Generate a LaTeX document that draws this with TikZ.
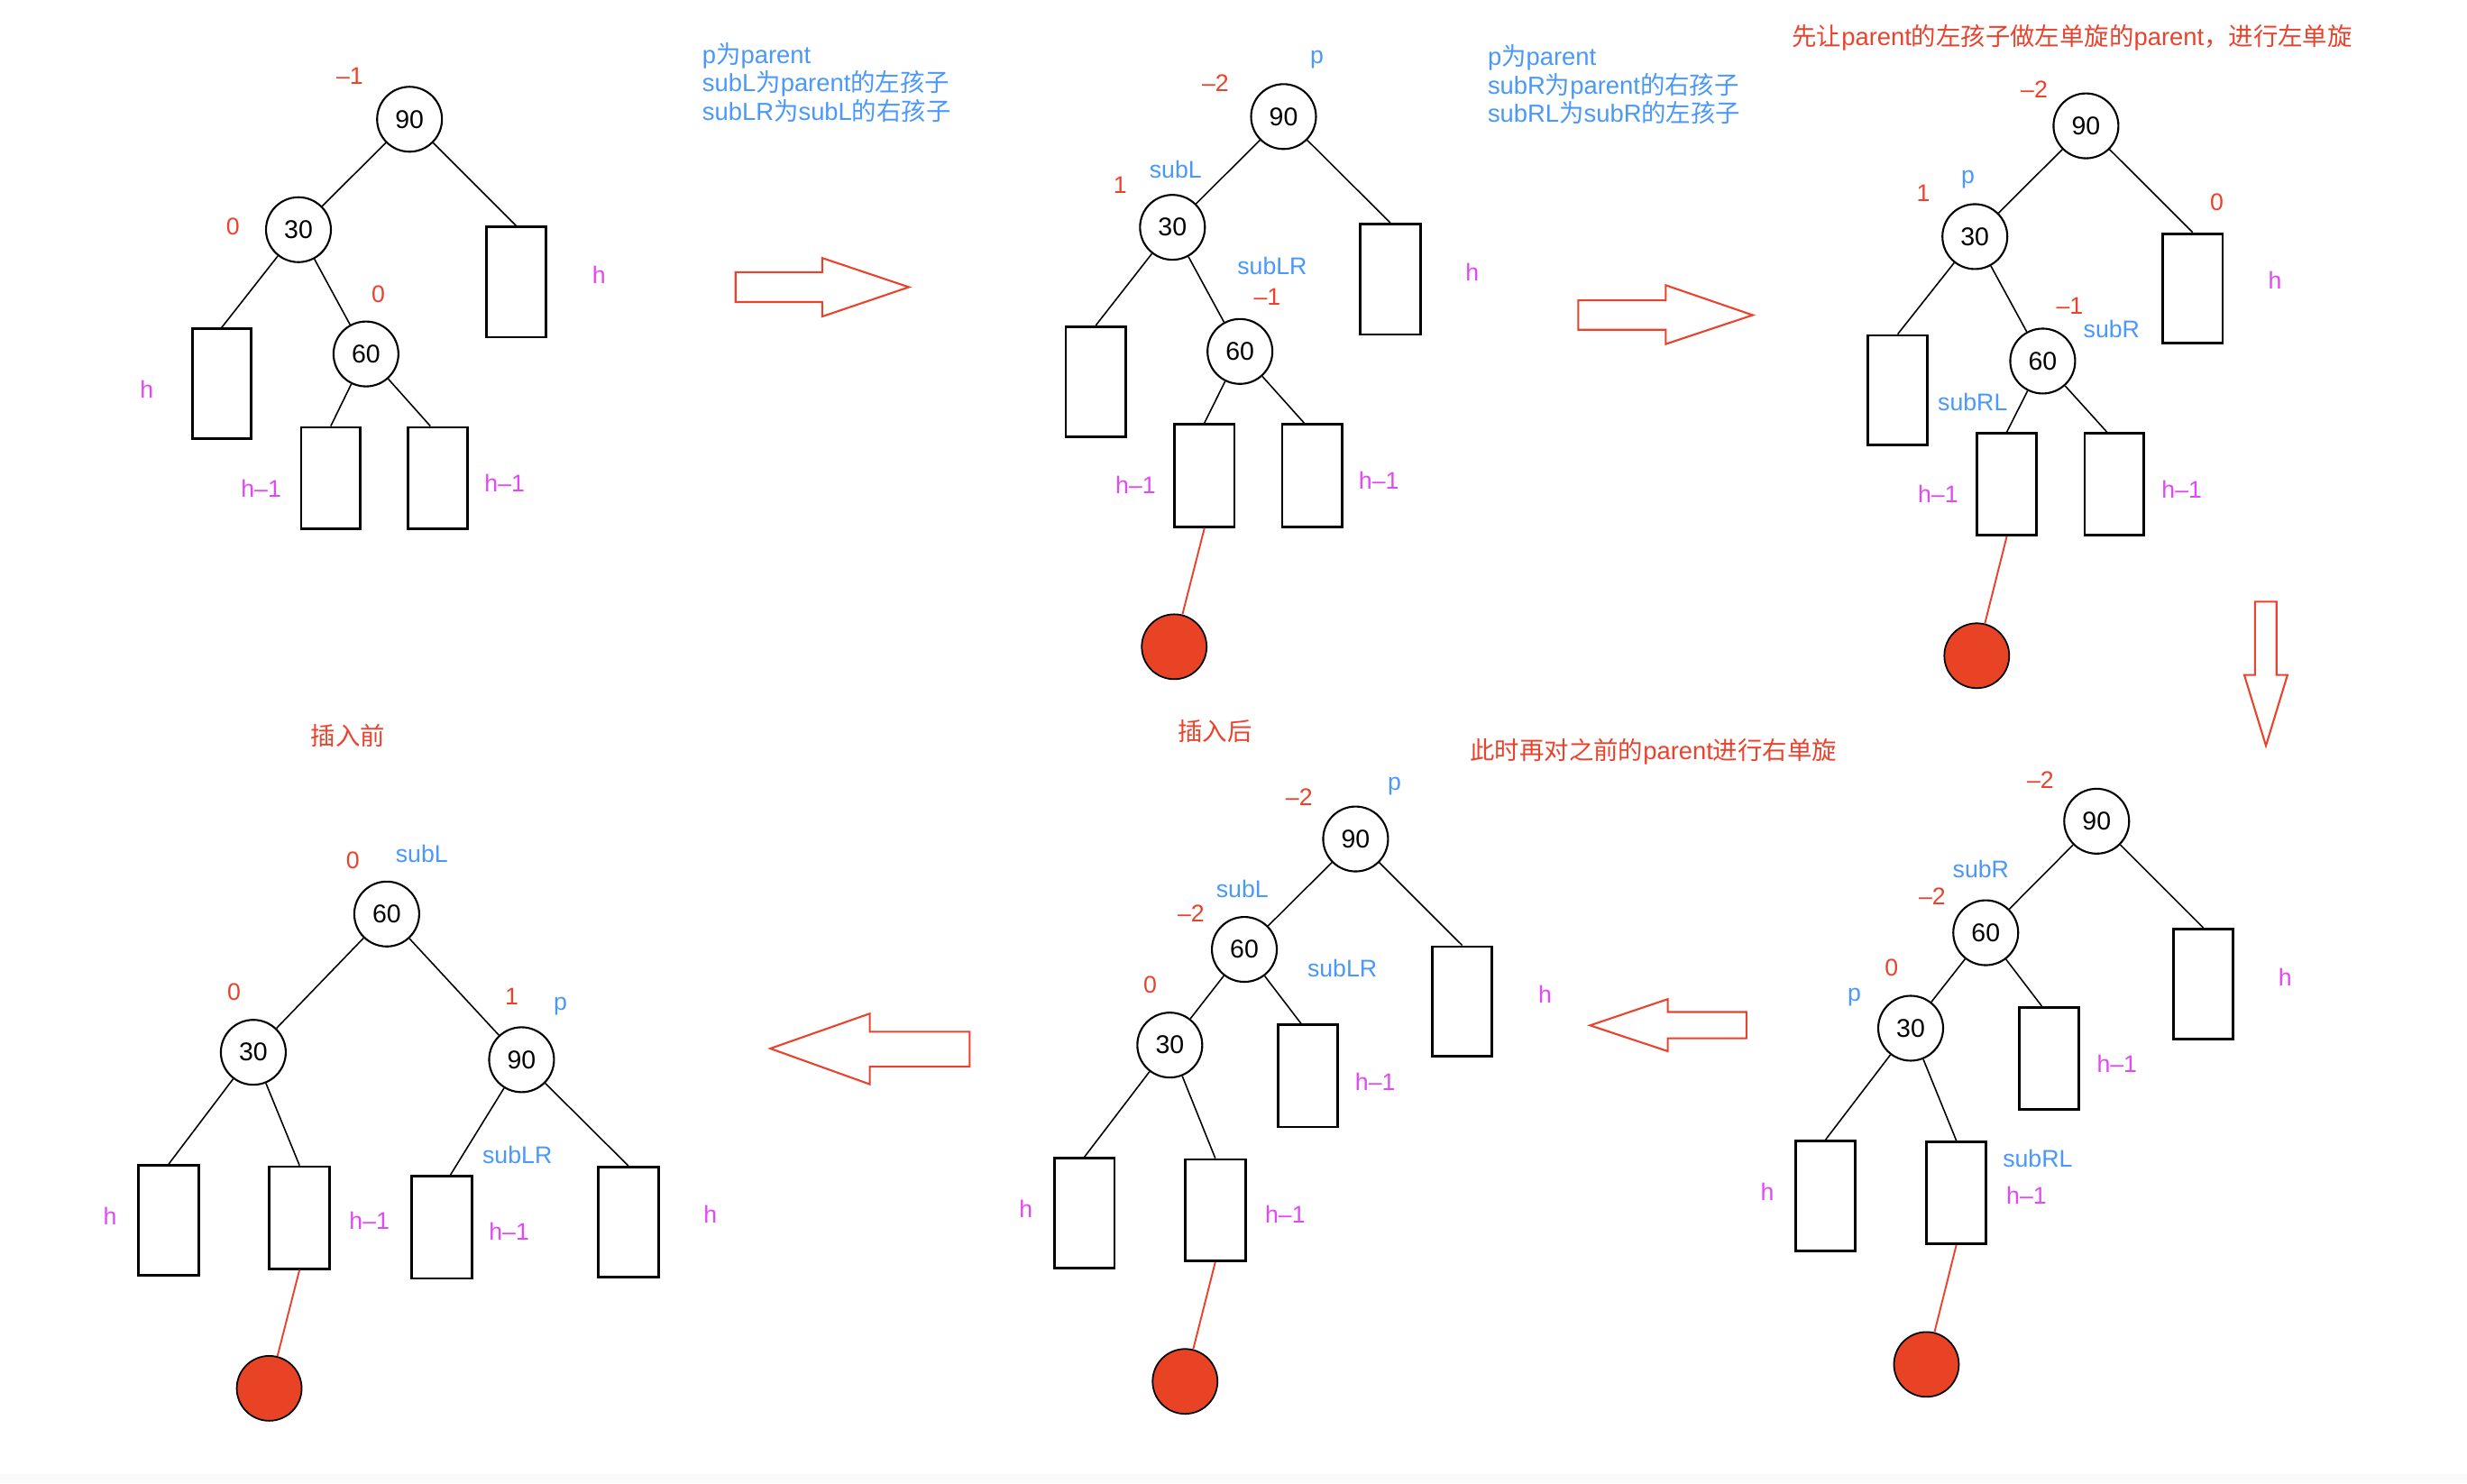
\documentclass[tikz,border=0pt]{standalone}
\usepackage{fontspec}
\setmainfont{Liberation Sans}
\newfontfamily\cjk{Noto Sans CJK SC}
\usetikzlibrary{calc}
\definecolor{tred}{RGB}{234,67,45}
\definecolor{tblue}{RGB}{74,152,247}
\definecolor{tmag}{RGB}{226,72,245}
\definecolor{rfill}{RGB}{233,67,38}
\newcommand\tbox[5]{\node[boxn,minimum width={(#4-#2)*0.01745cm},minimum height={(#5-#3)*0.01745cm}] (#1) at ({(#2+#4)/2},{(#3+#5)/2}) {};}
\newcommand\zh[1]{{\cjk #1}}
\begin{document}
\begin{tikzpicture}[x=0.01745cm,y=-0.01745cm,
  circ/.style={circle,draw,line width=0.6pt,minimum size=0.72cm,inner sep=0pt,font=\fontsize{8.1}{9}\selectfont},
  redc/.style={circle,draw,line width=0.5pt,fill=rfill,minimum size=0.72cm,inner sep=0pt},
  boxn/.style={draw,line width=0.8pt,inner sep=0pt},
  edge/.style={line width=0.45pt},
  redline/.style={draw=tred,line width=0.55pt},
  lab/.style={inner sep=0pt,text height=0.72em,text depth=0.12em,font=\fontsize{7.6}{9}\selectfont},
  bal/.style={lab,text=tred},
  nam/.style={lab,text=tblue},
  hgt/.style={lab,text=tmag},
  note/.style={lab,text=tblue,anchor=west,font=\fontsize{7.8}{9}\selectfont},
  ttl/.style={lab,text=tred,font=\fontsize{7.8}{9}\selectfont},
  bigarrow/.style={draw=tred,line width=0.6pt,fill=white,line join=miter}
]
\fill[white] (0,0) rectangle (1568,943);
\fill[black!2] (0,937) rectangle (1568,943);
\useasboundingbox (0,0) rectangle (1568,943);

% ---------------- Tree 1 (top left) ----------------
\node[circ] (a90) at (260.3,75.8) {90};
\node[circ] (a30) at (189.7,146) {30};
\node[circ] (a60) at (232.6,225) {60};
\tbox{A1}{309.1}{144.2}{346.9}{214.3}
\tbox{A2}{122.2}{209}{159.6}{278.9}
\tbox{A3}{191.4}{271.6}{229.1}{336.2}
\tbox{A4}{259.3}{271.6}{297.1}{336.2}
\draw[edge] (a90) -- (A1.north);
\draw[edge] (a90) -- (a30);
\draw[edge] (a30) -- (A2.north);
\draw[edge] (a30) -- (a60);
\draw[edge] (a60) -- (A3.north);
\draw[edge] (a60) -- ($(A4.north west)!0.38!(A4.north east)$);
\node[bal] (la1) at (222.3,47.5) {–1};
\node[bal] (la2) at (148,143.3) {0};
\node[bal] (la3) at (240.4,186) {0};
\node[hgt] (la4) at (380.7,174.2) {h};
\node[hgt] (la5) at (93.3,247.1) {h};
\node[hgt] (la6) at (166,310) {h–1};
\node[hgt] (la7) at (320.8,306.5) {h–1};
\node[note] (na1) at (446,34.5) {p\zh{为}parent};
\node[note] (na2) at (446,52.3) {subL\zh{为}parent\zh{的左孩子}};
\node[note] (na3) at (446,70.6) {subLR\zh{为}subL\zh{的右孩子}};
\draw[bigarrow] (467.5,173) -- (522.6,173) -- (522.6,164) -- (577.7,182.5) -- (522.6,201.2) -- (522.6,192) -- (467.5,192) -- cycle;

% ---------------- Tree 2 (top middle) ----------------
\node[circ] (b90) at (815.8,74.1) {90};
\node[circ] (b30) at (745.2,144.5) {30};
\node[circ] (b60) at (788.1,223.4) {60};
\node[redc] (bR) at (746.3,411.1) {};
\tbox{B1}{864.6}{142.4}{902.7}{212.6}
\tbox{B2}{677.4}{207.6}{715.6}{277.5}
\tbox{B3}{746.5}{269.6}{784.6}{334.8}
\tbox{B4}{814.9}{269.6}{853.1}{334.8}
\draw[edge] (b90) -- (B1.north);
\draw[edge] (b90) -- (b30);
\draw[edge] (b30) -- (B2.north);
\draw[edge] (b30) -- (b60);
\draw[edge] (b60) -- (B3.north);
\draw[edge] (b60) -- ($(B4.north west)!0.37!(B4.north east)$);
\draw[redline] (B3.south) -- (bR);
\node[nam] (lb1) at (837,34.5) {p};
\node[bal] (lb2) at (772.5,52) {–2};
\node[nam] (lb3) at (747.2,107.3) {subL};
\node[bal] (lb4) at (712,117) {1};
\node[nam] (lb5) at (808.6,168.7) {subLR};
\node[bal] (lb6) at (805.4,188) {–1};
\node[hgt] (lb7) at (935.7,172.5) {h};
\node[hgt] (lb8) at (721.8,307.9) {h–1};
\node[hgt] (lb9) at (876.4,305) {h–1};
\node[note] (nb1) at (945.2,35.7) {p\zh{为}parent};
\node[note] (nb2) at (945.2,54.1) {subR\zh{为}parent\zh{的右孩子}};
\node[note] (nb3) at (945.2,71.6) {subRL\zh{为}subR\zh{的左孩子}};
\draw[bigarrow] (1003.1,190.9) -- (1058.7,190.9) -- (1058.7,181.3) -- (1114,200.3) -- (1058.7,218.7) -- (1058.7,209.6) -- (1003.1,209.6) -- cycle;

% ---------------- Tree 3 (top right) ----------------
\node[ttl,anchor=west] (t1) at (1138.6,22.8) {\zh{先让}parent\zh{的左孩子做左单旋的}parent\zh{，进行左单旋}};
\node[circ] (c90) at (1325.8,80) {90};
\node[circ] (c30) at (1255.2,150.4) {30};
\node[circ] (c60) at (1298.3,229.5) {60};
\node[redc] (cR) at (1256.4,416.8) {};
\tbox{C1}{1374.5}{148.5}{1412.7}{218.1}
\tbox{C2}{1187.2}{213.2}{1225.1}{282.7}
\tbox{C3}{1256.6}{275.4}{1294.4}{340.1}
\tbox{C4}{1325}{275.4}{1362.6}{340.1}
\draw[edge] (c90) -- (C1.north);
\draw[edge] (c90) -- (c30);
\draw[edge] (c30) -- (C2.north);
\draw[edge] (c30) -- (c60);
\draw[edge] (c60) -- (C3.north);
\draw[edge] (c60) -- ($(C4.north west)!0.38!(C4.north east)$);
\draw[redline] (C3.south) -- (cR);
\node[bal] (lc1) at (1292.9,56.4) {–2};
\node[nam] (lc2) at (1250.8,110.5) {p};
\node[bal] (lc3) at (1222.4,122.2) {1};
\node[bal] (lc4) at (1409,127.8) {0};
\node[hgt] (lc5) at (1446,177.5) {h};
\node[bal] (lc6) at (1315.5,193.6) {–1};
\node[nam] (lc7) at (1342.1,208.8) {subR};
\node[nam] (lc8) at (1253.8,255) {subRL};
\node[hgt] (lc9) at (1231.8,313.7) {h–1};
\node[hgt] (lc10) at (1386.7,310.5) {h–1};
\draw[bigarrow] (1433.2,382.5) -- (1446.9,382.5) -- (1446.9,429) -- (1453.9,429) -- (1440.2,474) -- (1426.4,429) -- (1433.2,429) -- cycle;

% ---------------- Tree 4 (bottom right) ----------------
\node[circ] (d90) at (1332.6,522) {90};
\node[circ] (d60) at (1262.1,592.9) {60};
\node[circ] (d30) at (1214.4,653.6) {30};
\node[redc] (dR) at (1224.4,867.3) {};
\tbox{D1}{1381.5}{590.6}{1419.4}{660.7}
\tbox{D2}{1283.5}{640.3}{1321.3}{705.2}
\tbox{D3}{1141.4}{725.2}{1179.3}{795.2}
\tbox{D4}{1224.5}{725.8}{1262.3}{790.7}
\draw[edge] (d90) -- (d60);
\draw[edge] (d90) -- (D1.north);
\draw[edge] (d60) -- (d30);
\draw[edge] (d60) -- ($(D2.north west)!0.38!(D2.north east)$);
\draw[edge] (d30) -- (D3.north);
\draw[edge] (d30) -- (D4.north);
\draw[redline] (D4.south) -- (dR);
\node[bal] (ld1) at (1296.9,495.3) {–2};
\node[nam] (ld2) at (1259,551.9) {subR};
\node[bal] (ld3) at (1228.1,569) {–2};
\node[bal] (ld4) at (1202.2,614.1) {0};
\node[nam] (ld5) at (1178.6,630.4) {p};
\node[hgt] (ld6) at (1452.4,620.4) {h};
\node[hgt] (ld7) at (1345.5,675.4) {h–1};
\node[nam] (ld8) at (1295.1,736.1) {subRL};
\node[hgt] (ld9) at (1288,759.6) {h–1};
\node[hgt] (ld10) at (1123.3,757.3) {h};
\draw[bigarrow] (1010.6,651.8) -- (1060,635.1) -- (1060,643.3) -- (1110,643.3) -- (1110,660) -- (1060,660) -- (1060,668.2) -- cycle;

% ---------------- Tree 5 (bottom middle) ----------------
\node[ttl] (t2) at (772.2,464.8) {\zh{插入后}};
\node[ttl,anchor=west] (t3) at (934,476.6) {\zh{此时再对之前的}parent\zh{进行右单旋}};
\node[circ] (e90) at (861.6,533.3) {90};
\node[circ] (e60) at (790.9,603.5) {60};
\node[circ] (e30) at (743.5,664.3) {30};
\node[redc] (eR) at (753.2,878.1) {};
\tbox{E1}{910.3}{601.7}{948.4}{671.5}
\tbox{E2}{812.3}{651.5}{850.4}{716.4}
\tbox{E3}{670.1}{736.3}{708.3}{806.1}
\tbox{E4}{753.3}{737}{791.5}{801.5}
\draw[edge] (e90) -- (e60);
\draw[edge] (e90) -- (E1.north);
\draw[edge] (e60) -- (e30);
\draw[edge] (e60) -- ($(E2.north west)!0.39!(E2.north east)$);
\draw[edge] (e30) -- (E3.north);
\draw[edge] (e30) -- (E4.north);
\draw[redline] (E4.south) -- (eR);
\node[nam] (le1) at (886.3,496.3) {p};
\node[bal] (le2) at (825.7,506) {–2};
\node[nam] (le3) at (789.6,564.4) {subL};
\node[bal] (le4) at (757,579.7) {–2};
\node[nam] (le5) at (853.1,614.8) {subLR};
\node[bal] (le6) at (731,625.3) {0};
\node[hgt] (le7) at (982,631.5) {h};
\node[hgt] (le8) at (874.1,686.9) {h–1};
\node[hgt] (le9) at (652,768) {h};
\node[hgt] (le10) at (816.9,771.4) {h–1};
\draw[bigarrow] (489.6,666.5) -- (552.8,644.3) -- (552.8,655.8) -- (616.3,655.8) -- (616.3,678) -- (552.8,678) -- (552.8,689.2) -- cycle;

% ---------------- Tree 6 (bottom left) ----------------
\node[ttl] (t4) at (221.1,467.5) {\zh{插入前}};
\node[circ] (f60) at (245.8,581) {60};
\node[circ] (f30) at (161,668.9) {30};
\node[circ] (f90) at (331.5,673.6) {90};
\node[redc] (fR) at (171.1,882.5) {};
\tbox{F1}{88}{740.9}{126.2}{810.7}
\tbox{F2}{171.3}{741.6}{209.4}{806.4}
\tbox{F3}{261.7}{747.5}{299.9}{812.6}
\tbox{F4}{380.3}{741.9}{418.5}{812}
\draw[edge] (f60) -- (f30);
\draw[edge] (f60) -- (f90);
\draw[edge] (f30) -- (F1.north);
\draw[edge] (f30) -- (F2.north);
\draw[edge] (f90) -- ($(F3.north west)!0.64!(F3.north east)$);
\draw[edge] (f90) -- (F4.north);
\draw[redline] (F2.south) -- (fR);
\node[bal] (lf1) at (224.3,546) {0};
\node[nam] (lf2) at (268.1,542.1) {subL};
\node[bal] (lf3) at (148.7,629.6) {0};
\node[bal] (lf4) at (325.2,632.8) {1};
\node[nam] (lf5) at (356.2,636.1) {p};
\node[nam] (lf6) at (328.8,733.4) {subLR};
\node[hgt] (lf7) at (70,772.7) {h};
\node[hgt] (lf8) at (234.8,775.3) {h–1};
\node[hgt] (lf9) at (323.6,782.5) {h–1};
\node[hgt] (lf10) at (451.5,771.4) {h};
\end{tikzpicture}
\end{document}
